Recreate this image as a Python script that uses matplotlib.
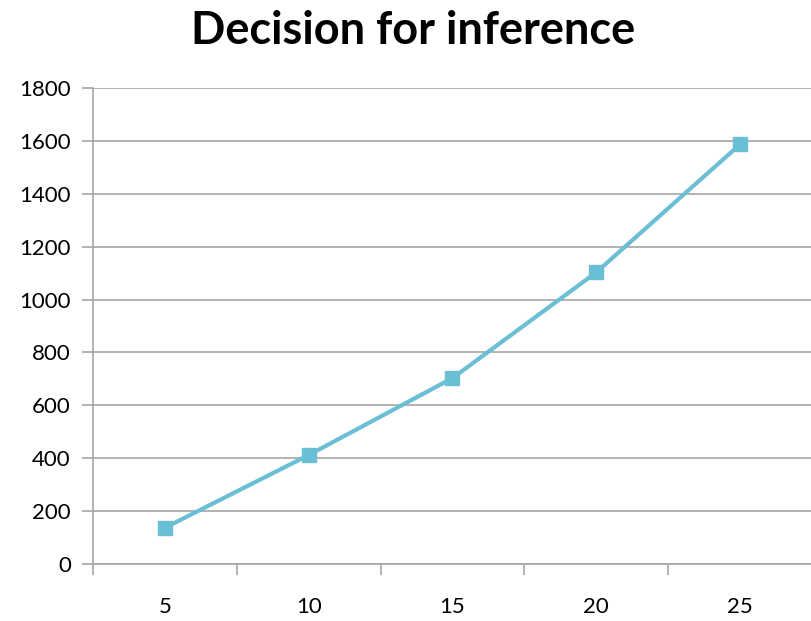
import matplotlib.pyplot as plt

categories = ["5", "10", "15", "20", "25"]
values = [137, 412, 703, 1103, 1587]
y_ticks = [0, 200, 400, 600, 800, 1000, 1200, 1400, 1600, 1800]

plt.rcParams['font.family'] = ['Lato', 'DejaVu Sans']

fig = plt.figure(figsize=(8.12, 6.21), dpi=100)
ax = fig.add_axes([93/812, 1 - 564/621, 1 - 93/812, (564 - 88)/621])

grid = "#A6A6A6"
pos = [i + 0.5 for i in range(len(categories))]
ax.plot(pos, values, color="#6BBFD5", lw=3, marker="s", markersize=10,
        markeredgecolor="#6BBFD5", zorder=3, clip_on=False)

ax.set_xlim(0, len(categories))
ax.set_ylim(0, 1800)
ax.set_yticks(y_ticks)
ax.set_yticklabels([str(v) for v in y_ticks], fontsize=16)
ax.yaxis.grid(True, color=grid, lw=1.2)
ax.tick_params(axis='y', length=8, color=grid, width=1.2, pad=8)

ax.set_xticks(pos)
ax.set_xticklabels(categories, fontsize=16)
ax.set_xticks(range(len(categories) + 1), minor=True)
ax.tick_params(axis='x', which='major', length=0, pad=24)
ax.tick_params(axis='x', which='minor', length=8, color=grid, width=1.2)

for s in ["top", "right"]:
    ax.spines[s].set_visible(False)
ax.spines["left"].set_color(grid)
ax.spines["left"].set_linewidth(1.2)
ax.spines["bottom"].set_color(grid)
ax.spines["bottom"].set_linewidth(1.2)
ax.set_axisbelow(True)

fig.text(413/812, 1 - 31/621, "Decision for inference", ha="center", va="center",
         fontsize=32.5, fontweight="bold")

fig.savefig("out.png", dpi=100)
